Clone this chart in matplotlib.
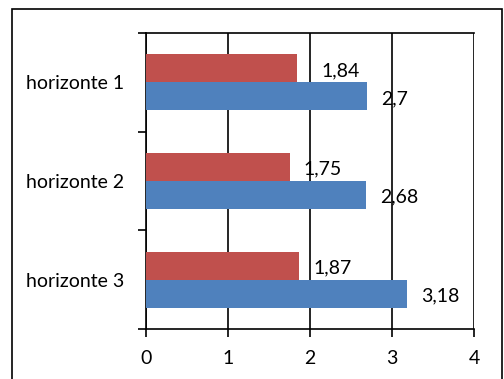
import matplotlib.pyplot as plt
from matplotlib.patches import Rectangle

# data
categories = ["horizonte 1", "horizonte 2", "horizonte 3"]
red_values = [1.84, 1.75, 1.87]
blue_values = [2.7, 2.68, 3.18]
red_labels = ["1,84", "1,75", "1,87"]
blue_labels = ["2,7", "2,68", "3,18"]
# small horizontal nudge (points) of each red label, the first one sits further out
red_nudge = [18, 10, 10]

plt.rcParams["font.family"] = ["Lato", "DejaVu Sans"]
fs = 14

fig = plt.figure(figsize=(5.04, 3.79), dpi=100)
fig.patches.append(Rectangle((12 / 504, -0.05), 490 / 504, 1 - 9 / 379 + 0.05,
                             transform=fig.transFigure, fill=False,
                             edgecolor="black", linewidth=1.2))

ax = fig.add_axes([146 / 504, 1 - 329 / 379, 328 / 504, 296 / 379])

pos = list(range(len(categories)))
h = 0.284
red_y = [p - h / 2 for p in pos]
blue_y = [p + h / 2 for p in pos]

ax.barh(red_y, red_values, height=h, color="#C0504D", zorder=3)
ax.barh(blue_y, blue_values, height=h, color="#4F81BD", zorder=3)

for y, v, t, dx in zip(red_y, red_values, red_labels, red_nudge):
    ax.annotate(t, (v, y), xytext=(dx, -1.5), textcoords="offset points",
                va="center", ha="left", fontsize=fs, zorder=4)
for y, v, t in zip(blue_y, blue_values, blue_labels):
    ax.annotate(t, (v, y), xytext=(10, -1.5), textcoords="offset points",
                va="center", ha="left", fontsize=fs, zorder=4)

ax.set_xlim(0, 4)
ax.set_ylim(2.5, -0.5)
ax.set_xticks([0, 1, 2, 3, 4])
ax.set_yticks(pos)
ax.set_yticklabels(categories, fontsize=fs)
ax.set_yticks([-0.5, 0.5, 1.5, 2.5], minor=True)
ax.tick_params(axis="y", which="major", length=0, pad=16)
ax.tick_params(axis="y", which="minor", length=6, width=1.2, direction="out")
ax.tick_params(axis="x", length=6, width=1.2, direction="out", labelsize=fs, pad=9)

ax.grid(axis="x", color="black", linewidth=1.2, zorder=1)
for s in ["top", "left", "bottom"]:
    ax.spines[s].set_linewidth(1.2)
ax.spines["right"].set_visible(False)

fig.savefig("out.png", dpi=100)
